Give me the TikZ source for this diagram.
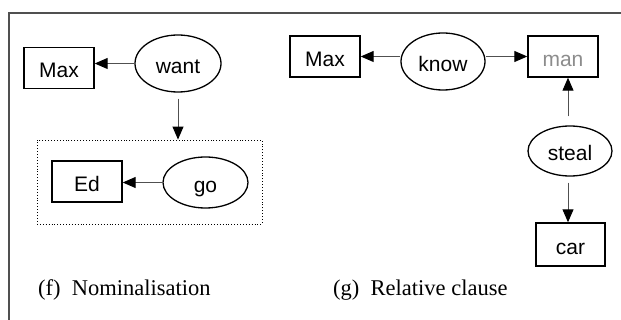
\documentclass[tikz,border=0pt]{standalone}
\usepackage{fontspec}
\setmainfont{Liberation Serif}
\newfontfamily\nodefont{Liberation Sans}
\usetikzlibrary{arrows.meta,shapes.geometric}
\definecolor{arrowgray}{HTML}{505050}
\definecolor{mangray}{HTML}{8C8C8C}
\tikzset{
  wordbox/.style={draw=black,line width=1.4pt,rectangle,minimum width=70pt,minimum height=41pt,inner sep=0pt,text height=20pt,text depth=0pt,font=\nodefont\fontsize{21}{25}\selectfont},
  relell/.style={draw=black,line width=1.3pt,ellipse,inner sep=0pt,text height=20pt,text depth=0pt,font=\nodefont\fontsize{21}{25}\selectfont},
  rel/.style={draw=arrowgray,line width=1pt,-{Triangle[length=13pt,width=11pt,color=black]}},
  caption/.style={anchor=base west,inner sep=0pt,font=\fontsize{22.5}{27}\selectfont},
}
\begin{document}
\begin{tikzpicture}[x=1pt,y=-1pt]
\useasboundingbox (0,0) rectangle (621,320);
% frame
\coordinate (ftl) at (9,13);
\coordinate (ftr) at (621,13);
\coordinate (fbl) at (9,320);
\draw[draw=arrowgray,line width=1.2pt] (ftr) -- (ftl) -- (fbl);
% (f) Nominalisation
\node[wordbox] (maxf) at (59,68) {Max};
\node[relell,minimum width=86pt,minimum height=57pt] (want) at (178,63.5) {want};
\node[draw,dotted,line width=0.9pt,minimum width=225pt,minimum height=84pt,inner sep=0pt] (dbox) at (149.5,182) {};
\node[wordbox] (ed) at (87,181.5) {Ed};
\node[relell,minimum width=85pt,minimum height=51pt] (go) at (205.5,182.5) {go};
\draw[rel] (want.west) -- (want.west -| maxf.east);
\draw[rel,shorten <=6pt] (want.south) -- (want.south |- dbox.north);
\draw[rel] (go.west) -- (go.west -| ed.east);
\node[caption] (capf) at (38,296) {(f)\ \ Nominalisation};
% (g) Relative clause
\node[wordbox] (maxg) at (325,56.5) {Max};
\node[relell,minimum width=84pt,minimum height=57pt] (know) at (443,61.5) {know};
\node[wordbox,text=mangray] (man) at (563,56.5) {man};
\node[relell,minimum width=84pt,minimum height=50pt] (steal) at (570,151) {steal};
\node[wordbox,minimum width=69pt,minimum height=43pt] (car) at (570.5,244.5) {car};
\draw[rel] (maxg.east -| know.west) -- (maxg.east);
\draw[rel] (man.west -| know.east) -- (man.west);
\draw[rel,shorten <=9pt] (steal.north -| 568,0) -- (man.south -| 568,0);
\draw[rel,shorten <=6pt] (steal.south -| 568,0) -- (car.north -| 568,0);
\node[caption] (capg) at (333,296) {(g)\ \ Relative clause};
\end{tikzpicture}
\end{document}
